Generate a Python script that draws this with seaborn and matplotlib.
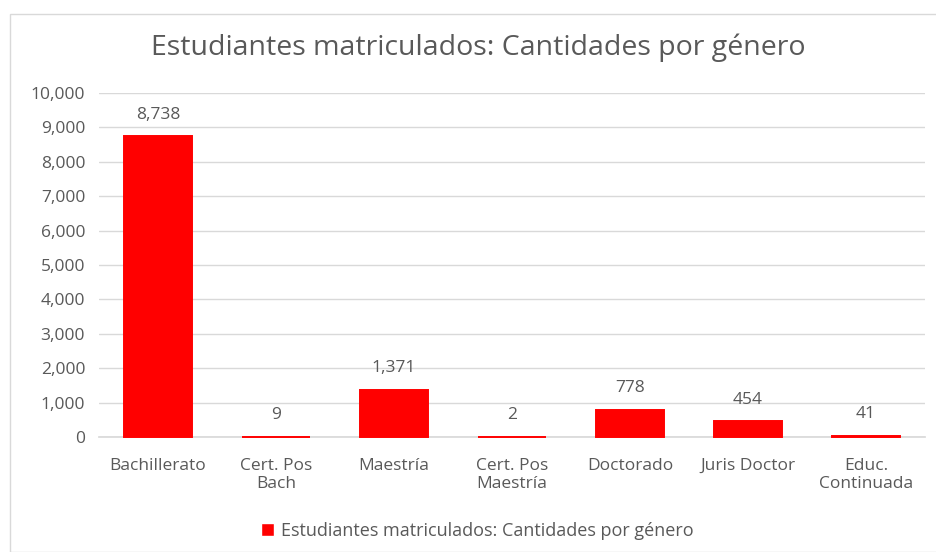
import numpy as np
import pandas as pd
import matplotlib
matplotlib.use("Agg")
import matplotlib.pyplot as plt
from matplotlib.patches import Rectangle, Patch
import seaborn as sns

categories = ["Bachillerato", "Cert. Pos\nBach", "Maestría", "Cert. Pos\nMaestría",
              "Doctorado", "Juris Doctor", "Educ.\nContinuada"]
values = [8738, 9, 1371, 2, 778, 454, 41]
series_name = "Estudiantes matriculados: Cantidades por género"
yticks = np.arange(0, 10001, 1000)

sns.set_theme(style="white")
plt.rcParams["font.family"] = ["Open Sans", "DejaVu Sans"]
text_color = "#595959"

df = pd.DataFrame({"categoria": categories, "cantidad": values})

fig = plt.figure(figsize=(9.36, 5.52), dpi=100)
ax = fig.add_axes([0.1058, 0.2083, 0.8825, 0.6232])

# chart border (Excel-style)
fig.patches.append(Rectangle((10 / 936, 0), 1.0, 1 - 14 / 552, transform=fig.transFigure,
                             fill=False, edgecolor="#d9d9d9", linewidth=1.0))

sns.barplot(data=df, x="categoria", y="cantidad", color="#ff0000", width=0.58,
            edgecolor="#ff0000", linewidth=1.4, saturation=1, ax=ax)
for bar in ax.containers[0]:
    bar.set_zorder(4)
    bar.set_clip_on(False)

ax.set_ylim(0, 10000)
ax.set_xlim(-0.5, len(categories) - 0.5)
ax.set_yticks(yticks)
ax.set_yticklabels([f"{v:,}" for v in yticks])
ax.yaxis.grid(True, color="#d9d9d9", linewidth=1)
ax.set_axisbelow(True)
for s in ["top", "right", "left"]:
    ax.spines[s].set_visible(False)
ax.spines["bottom"].set_color("#d9d9d9")
ax.spines["bottom"].set_zorder(1)
ax.tick_params(axis="both", length=0, colors=text_color, labelsize=12.5)
ax.tick_params(axis="y", pad=10)
ax.tick_params(axis="x", pad=15)
ax.set_xlabel("")
ax.set_ylabel("")

ax.bar_label(ax.containers[0], labels=[f"{v:,}" for v in values], padding=10,
             color=text_color, fontsize=12.5)

fig.text(0.511, 0.913, series_name, ha="center", va="center", fontsize=20.5, color=text_color)

fig.legend(handles=[Patch(facecolor="#ff0000", label=series_name)], loc="center",
           bbox_to_anchor=(0.51, 0.038), frameon=False, fontsize=13, labelcolor=text_color,
           handlelength=0.7, handleheight=0.7, handletextpad=0.4)

fig.savefig("out.png", dpi=100)
